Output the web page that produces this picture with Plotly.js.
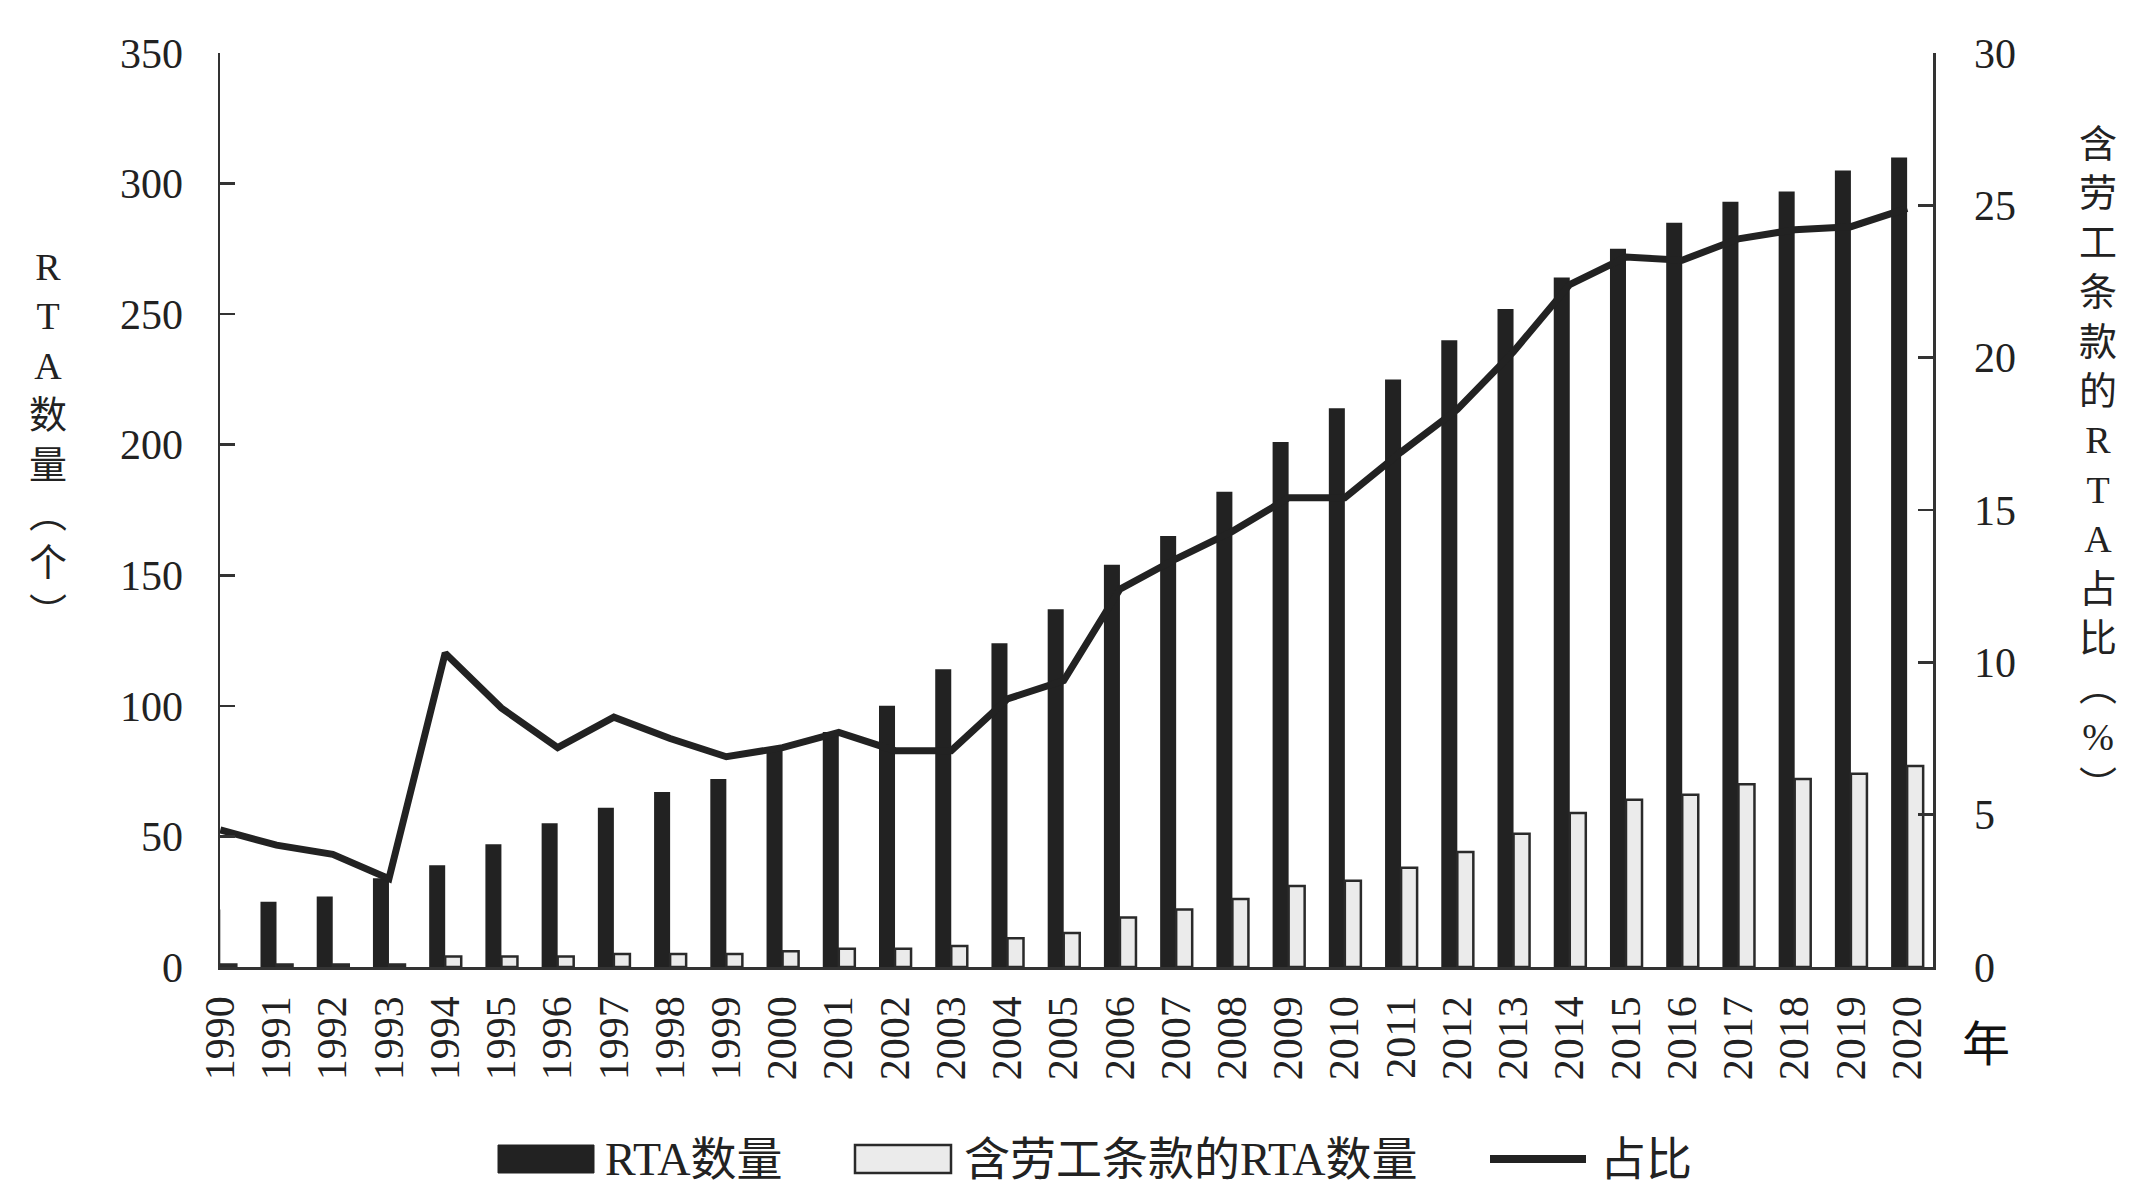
<!DOCTYPE html>
<html>
<head>
<meta charset="utf-8">
<script src="https://cdn.plot.ly/plotly-3.0.1.min.js"></script>
<style>
  html, body { margin: 0; padding: 0; background: #fff; }
  #chart { width: 2145px; height: 1194px; }
</style>
</head>
<body>
<div id="chart"></div>
<script>
// RTA counts per year
const years = [
    "1990", "1991", "1992", "1993", "1994", "1995", "1996", "1997", "1998", "1999",
    "2000", "2001", "2002", "2003", "2004", "2005", "2006", "2007", "2008", "2009",
    "2010", "2011", "2012", "2013", "2014", "2015", "2016", "2017", "2018", "2019", "2020",
];
const rtaCount = [
    22, 25, 27, 34, 39, 47, 55, 61, 67, 72,
    83, 90, 100, 114, 124, 137, 154, 165, 182, 201,
    214, 225, 240, 252, 264, 275, 285, 293, 297, 305, 310,
];
const laborRtaCount = [
    1, 1, 1, 1, 4, 4, 4, 5, 5, 5,
    6, 7, 7, 8, 11, 13, 19, 22, 26, 31,
    33, 38, 44, 51, 59, 64, 66, 70, 72, 74, 77,
];
const laborShare = [
    4.5, 4.0, 3.7, 2.9, 10.3, 8.5, 7.2, 8.2, 7.5, 6.9,
    7.2, 7.7, 7.1, 7.1, 8.8, 9.4, 12.4, 13.4, 14.3, 15.4,
    15.4, 16.9, 18.3, 20.2, 22.4, 23.3, 23.2, 23.9, 24.2, 24.3, 24.9,
];
const leftTicks = [0, 50, 100, 150, 200, 250, 300, 350];
const rightTicks = [0, 5, 10, 15, 20, 25, 30];
const legendNames = ["RTA数量", "含劳工条款的RTA数量", "占比"];

const INK = "#222222";
const FONT = "'Liberation Serif', 'Noto Sans CJK SC', serif";

// plot area in page pixels
const L = 220, R = 1933, T = 53, B = 967;
const W = R - L, H = B - T;
const px = (x) => (x - L) / W;
const py = (y) => (B - y) / H;

const traces = [
    {
        x: years, y: rtaCount, type: "bar", name: legendNames[0],
        marker: { color: INK, line: { color: INK, width: 0 } },
    },
    {
        x: years, y: laborRtaCount, type: "bar", name: legendNames[1],
        marker: { color: "#ebebeb", line: { color: "#2a2a2a", width: 2.5 } },
    },
    {
        x: years, y: laborShare, type: "scatter", mode: "lines", name: legendNames[2],
        yaxis: "y2", line: { color: INK, width: 7 },
    },
];

// hand-built legend to get the long swatches of the original
const legendShapes = [
    { type: "rect", xref: "paper", yref: "paper", x0: px(498), x1: px(594), y0: py(1173), y1: py(1145),
      fillcolor: INK, line: { color: INK, width: 1 } },
    { type: "rect", xref: "paper", yref: "paper", x0: px(855), x1: px(951), y0: py(1173), y1: py(1145),
      fillcolor: "#ebebeb", line: { color: "#2a2a2a", width: 2.5 } },
    { type: "line", xref: "paper", yref: "paper", x0: px(1490), x1: px(1586), y0: py(1159), y1: py(1159),
      line: { color: INK, width: 8 } },
];
const legendX = [603, 962, 1598];
const legendNotes = legendNames.map((t, i) => ({
    text: t, xref: "paper", yref: "paper", x: px(legendX[i]), y: py(1159),
    xanchor: "left", yanchor: "middle", showarrow: false,
    font: { family: FONT, size: 46, color: INK },
}));

const stack = (s) => Array.from(s).join("<br>");

const annotations = [
    ...legendNotes,
    {
        text: stack("RTA数量︵个︶"), xref: "paper", yref: "paper",
        x: px(48), y: py(440), xanchor: "center", yanchor: "middle", showarrow: false,
        font: { family: FONT, size: 38, color: INK },
    },
    {
        text: stack("含劳工条款的RTA占比︵%︶"), xref: "paper", yref: "paper",
        x: px(2098), y: py(465), xanchor: "center", yanchor: "middle", showarrow: false,
        font: { family: FONT, size: 38, color: INK },
    },
    {
        text: "年", xref: "paper", yref: "paper",
        x: px(1986), y: py(1040), xanchor: "center", yanchor: "middle", showarrow: false,
        font: { family: "'Noto Sans CJK SC', sans-serif", size: 48, color: "#111" },
    },
];

const layout = {
    width: 2145, height: 1194,
    paper_bgcolor: "#ffffff", plot_bgcolor: "#ffffff",
    margin: { l: L, r: 2145 - R, t: T, b: 1194 - B, pad: 0 },
    font: { family: FONT, size: 42, color: INK },
    showlegend: false,
    barmode: "group", bargap: 0.43, bargroupgap: 0,
    xaxis: {
        type: "category", range: [-0.005, 30.46],
        showline: true, linecolor: "#333", linewidth: 2.5,
        ticks: "", tickangle: -90, ticklabelstandoff: 10,
        showgrid: false, zeroline: false, fixedrange: true,
        tickfont: { family: FONT, size: 42, color: INK },
    },
    yaxis: {
        range: [0, 350], tickvals: leftTicks,
        showline: true, linecolor: "#333", linewidth: 2.5,
        ticks: "inside", ticklen: 15, tickwidth: 2.5, tickcolor: "#333",
        ticklabelstandoff: 26,
        showgrid: false, zeroline: false,
        tickfont: { family: FONT, size: 42, color: INK },
    },
    yaxis2: {
        range: [0, 30], tickvals: rightTicks, overlaying: "y", side: "right",
        showline: true, linecolor: "#333", linewidth: 2.5,
        ticks: "inside", ticklen: 15, tickwidth: 2.5, tickcolor: "#333",
        ticklabelstandoff: 30,
        showgrid: false, zeroline: false,
        tickfont: { family: FONT, size: 42, color: INK },
    },
    shapes: legendShapes,
    annotations: annotations,
};

Plotly.newPlot("chart", traces, layout, { displayModeBar: false, staticPlot: true });
</script>
</body>
</html>
